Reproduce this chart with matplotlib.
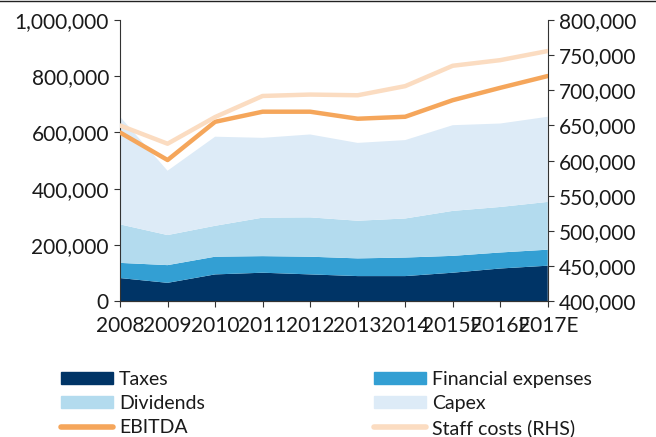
import matplotlib
matplotlib.use("Agg")
import matplotlib.pyplot as plt
from matplotlib.patches import Patch
from matplotlib.lines import Line2D
from matplotlib.ticker import FuncFormatter
import numpy as np

plt.rcParams['font.family'] = ['Lato', 'DejaVu Sans']

years = ["2008", "2009", "2010", "2011", "2012", "2013", "2014", "2015E", "2016E", "2017E"]
taxes = [82000, 65000, 95000, 101000, 95000, 89000, 89000, 101000, 116000, 126000]
financial_expenses = [54000, 63000, 63000, 59000, 63000, 63000, 66000, 60000, 57000, 57000]
dividends = [137000, 107000, 110000, 137000, 140000, 134000, 139000, 160000, 162000, 170000]
capex = [383000, 229000, 317000, 284000, 295000, 277000, 279000, 305000, 297000, 303000]
ebitda = [600000, 502000, 638000, 674000, 674000, 649000, 656000, 715000, 759000, 801000]
staff_costs = [650000, 624000, 662000, 692000, 694000, 693000, 706000, 735000, 743000, 756000]

c_taxes = "#003466"
c_fin = "#339fd3"
c_div = "#b3dbee"
c_capex = "#ddebf7"
c_ebitda = "#f5a65b"
c_staff = "#fbdcc1"
c_text = "#1a1a1a"

fig = plt.figure(figsize=(6.56, 4.37), dpi=100)
ax = fig.add_axes([0.183, 0.311, 0.652, 0.643])
x = np.arange(len(years))

ax.stackplot(x, taxes, financial_expenses, dividends, capex,
             colors=[c_taxes, c_fin, c_div, c_capex], linewidth=0)
ax.plot(x, ebitda, color=c_ebitda, lw=3.2, solid_capstyle='round', zorder=3)

ax.set_xlim(0, len(years) - 1)
ax.set_ylim(0, 1000000)
ax.set_yticks(np.arange(0, 1000001, 200000))
fmt = FuncFormatter(lambda v, p: f"{int(v):,}")
ax.yaxis.set_major_formatter(fmt)
ax.set_xticks(x)
ax.set_xticklabels(years)

ax2 = ax.twinx()
ax2.plot(x, staff_costs, color=c_staff, lw=3.2, solid_capstyle='round', zorder=3)
ax2.set_ylim(400000, 800000)
ax2.set_yticks(np.arange(400000, 800001, 50000))
ax2.yaxis.set_major_formatter(fmt)

for a in (ax, ax2):
    a.spines['top'].set_visible(False)
    for s in ('left', 'right', 'bottom'):
        a.spines[s].set_color('#333333')
        a.spines[s].set_linewidth(0.8)
    a.tick_params(axis='both', labelsize=15, labelcolor=c_text, color='#333333',
                  length=4.5, width=0.8, pad=3.5)
ax.tick_params(axis='x', pad=6)
ax.spines['right'].set_visible(False)
ax2.spines['left'].set_visible(False)

handles = [
    Patch(color=c_taxes, label="Taxes"),
    Patch(color=c_div, label="Dividends"),
    Line2D([0], [0], color=c_ebitda, lw=4, solid_capstyle='round', label="EBITDA"),
    Patch(color=c_fin, label="Financial expenses"),
    Patch(color=c_capex, label="Capex"),
    Line2D([0], [0], color=c_staff, lw=4, solid_capstyle='round', label="Staff costs (RHS)"),
]
leg = fig.legend(handles=handles, ncol=2, loc='upper left', bbox_to_anchor=(0.093, 0.151),
                 frameon=False, fontsize=14, handlelength=2.68, handleheight=0.57,
                 handletextpad=0.3, columnspacing=8.7, labelspacing=0.36, borderpad=0,
                 borderaxespad=0)
for t in leg.get_texts():
    t.set_color(c_text)

fig.add_artist(Line2D([0, 1], [0.998, 0.998], color='#222222', lw=1, transform=fig.transFigure))

fig.savefig("out.png", dpi=100)
